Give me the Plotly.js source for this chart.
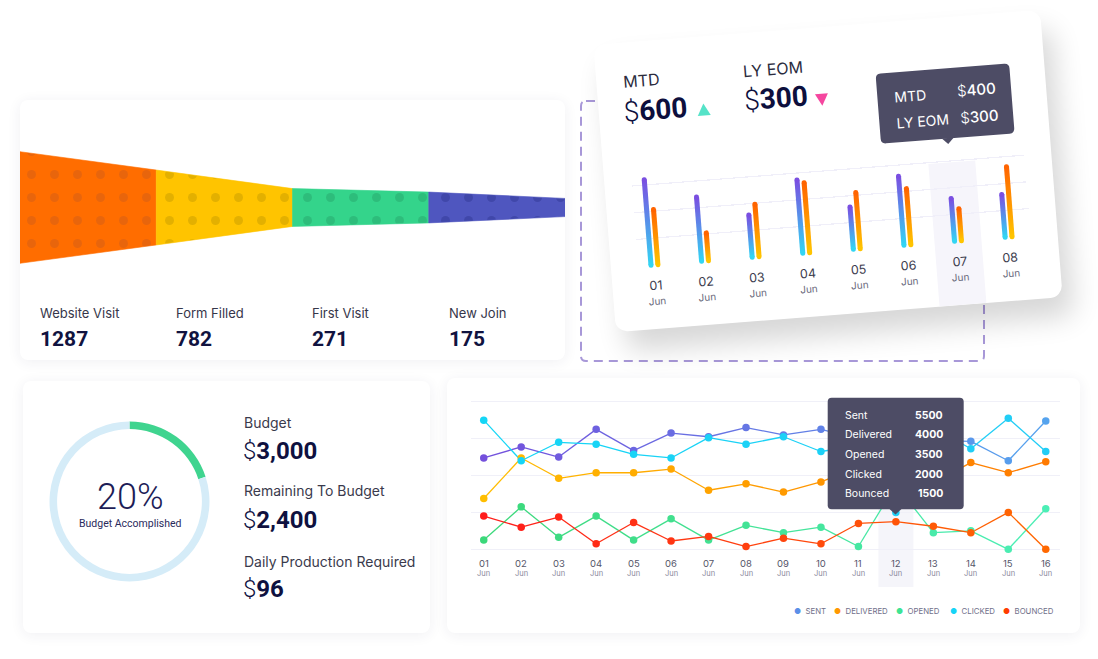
<!DOCTYPE html>
<html>
<head>
<meta charset="utf-8">
<script src="https://cdn.plot.ly/plotly-3.0.1.min.js"></script>
<style>
  html, body { margin: 0; padding: 0; background: #ffffff; width: 1098px; height: 659px; overflow: hidden; }
  .card { position: absolute; background: #fff; border-radius: 8px; box-shadow: 0 2px 14px rgba(40, 40, 90, 0.07); }
  #main { position: absolute; left: 0; top: 0; width: 1098px; height: 659px; }
  #tilt { position: absolute; left: 603.5px; top: 27px; width: 448px; height: 288px; background: #fff;
          border-radius: 12px; transform: rotate(-4.5deg); box-shadow: 10px 20px 28px rgba(0, 0, 0, 0.16); }
  #tiltPlot { position: absolute; left: 0; top: 0; width: 448px; height: 288px; }
</style>
</head>
<body>
<div class="card" style="left:20px;top:100px;width:545px;height:260px"></div>
<div class="card" style="left:23px;top:381px;width:407px;height:252px"></div>
<div class="card" style="left:447px;top:378px;width:633px;height:255px"></div>
<div id="main"></div>
<div id="tilt"><div id="tiltPlot"></div></div>
<script>
// ---------- data ----------
// Acquisition funnel
const funnelStages = ['Website Visit', 'Form Filled', 'First Visit', 'New Join'];
const funnelCounts = [1287, 782, 271, 175];

// Budget
const budgetTotal = 3000;
const budgetRemaining = 2400;
const dailyRequired = 96;

// Month to date vs last year end of month, daily
const barDays = ['01', '02', '03', '04', '05', '06', '07', '08'];
const barMonth = 'Jun';
const mtdDaily = [800, 600, 395, 685, 395, 645, 400, 400];
const lyEomDaily = [515, 260, 490, 655, 525, 525, 300, 655];
const mtdTotal = 600;
const lyEomTotal = 300;
const barFocusDay = 6;

// Email campaign, daily
const lineDays = ['01', '02', '03', '04', '05', '06', '07', '08', '09', '10', '11', '12', '13', '14', '15', '16'];
const lineMonth = 'Jun';
const seriesNames = ['Sent', 'Delivered', 'Opened', 'Clicked', 'Bounced'];
const sent      = [4950, 5550, 5000, 6500, 5350, 6300, 6100, 6600, 6200, 6500, 6000, 5500, 5900, 5850, 4800, 6950];
const delivered = [2750, 4950, 3850, 4150, 4150, 4350, 3200, 3550, 3100, 3650, 4450, 4000, 3600, 4700, 4150, 4750];
const opened    = [500, 2300, 650, 1800, 500, 1650, 500, 1300, 900, 1200, 150, 3500, 900, 1000, 0, 2200];
const clicked   = [7000, 4800, 5800, 5700, 5150, 4950, 6050, 5700, 6100, 5300, 5600, 2000, 6600, 5450, 7100, 5300];
const bounced   = [1800, 1200, 1750, 300, 1450, 450, 700, 150, 600, 300, 1400, 1500, 1250, 900, 2000, 0];
const lineFocusDay = 11;

// ---------- helpers ----------
const LABEL_FONT = 'Inter, "Noto Sans", sans-serif';
const NUM_FONT = 'Roboto, Inter, sans-serif';
const W = 1098, H = 659;
const X = x => x / W, Y = y => 1 - y / H;

function hex2rgb(h) { return [1, 3, 5].map(k => parseInt(h.substr(k, 2), 16)); }
function mix(a, b, t) {
  const A = hex2rgb(a), B = hex2rgb(b);
  return 'rgb(' + A.map((v, k) => Math.round(v + (B[k] - v) * t)).join(',') + ')';
}
// rounded rectangle path in paper units, from pixel corners
function roundRect(x0, y0, x1, y1, r, fx, fy) {
  const P = (x, y) => fx(x) + ',' + fy(y);
  return 'M' + P(x0 + r, y0) + ' L' + P(x1 - r, y0) + ' Q' + P(x1, y0) + ' ' + P(x1, y0 + r) +
         ' L' + P(x1, y1 - r) + ' Q' + P(x1, y1) + ' ' + P(x1 - r, y1) +
         ' L' + P(x0 + r, y1) + ' Q' + P(x0, y1) + ' ' + P(x0, y1 - r) +
         ' L' + P(x0, y0 + r) + ' Q' + P(x0, y0) + ' ' + P(x0 + r, y0) + ' Z';
}
function dollars(v, weight) {
  return '<span style="font-weight:300">$</span><span style="font-weight:' + weight + '">' +
         v.toLocaleString('en-US') + '</span>';
}

// ---------- main dashboard ----------
const traces = [];
const shapes = [];
const ann = [];

// funnel: each stage narrows from its own count to the next one
const bandBase = 250;
const edges = funnelCounts.concat([0]).map(v => (v + bandBase) / 2);
const funnelFill = ['#ff6d00', '#ffc400', '#34d48b', '#4f56bf'];
const funnelDots = ['#e8650c', '#e3b000', '#2dbd7b', '#4047aa'];
funnelCounts.forEach((v, i) => {
  traces.push({
    type: 'scatter', mode: 'lines', xaxis: 'x', yaxis: 'y',
    x: [i, i + 1, i + 1, i, i],
    y: [edges[i], edges[i + 1], -edges[i + 1], -edges[i], edges[i]],
    fill: 'toself', fillcolor: funnelFill[i],
    fillpattern: { shape: '.', bgcolor: funnelFill[i], fgcolor: funnelDots[i], size: 23, solidity: 0.12 },
    line: { width: 0.6, color: funnelFill[i] },
    hoverinfo: 'skip', showlegend: false
  });
  ann.push({ x: i + 0.132, xref: 'x', y: Y(313), yref: 'paper', xanchor: 'left', yanchor: 'middle',
    text: funnelStages[i], showarrow: false, font: { family: LABEL_FONT, size: 13, color: '#36364a' } });
  ann.push({ x: i + 0.132, xref: 'x', y: Y(339), yref: 'paper', xanchor: 'left', yanchor: 'middle',
    text: '<b>' + v + '</b>', showarrow: false, font: { family: NUM_FONT, size: 21, color: '#11133f' } });
});

// budget ring
const accomplished = budgetTotal - budgetRemaining;
traces.push({
  type: 'pie', values: [accomplished, budgetRemaining], labels: ['Accomplished', 'Remaining'],
  marker: { colors: ['#3fd48f', '#d5ecf8'], line: { width: 0 } },
  hole: 0.905, sort: false, direction: 'clockwise', rotation: 0, textinfo: 'none', hoverinfo: 'skip',
  domain: { x: [X(49.5), X(209.5)], y: [Y(581.5), Y(421.5)] }, showlegend: false
});
ann.push({ x: X(130), y: Y(497), xref: 'paper', yref: 'paper', showarrow: false, xanchor: 'center', yanchor: 'middle',
  text: '<span style="font-weight:300">' + Math.round(accomplished / budgetTotal * 100) + '%</span>',
  font: { family: NUM_FONT, size: 36, color: '#1d1d57' } });
ann.push({ x: X(130), y: Y(523), xref: 'paper', yref: 'paper', showarrow: false, xanchor: 'center', yanchor: 'middle',
  text: 'Budget Accomplished', font: { family: NUM_FONT, size: 10.5, color: '#2a2a5c' } });

const budgetRows = [
  ['Budget', budgetTotal, 423, 451],
  ['Remaining To Budget', budgetRemaining, 491, 520],
  ['Daily Production Required', dailyRequired, 561.5, 589]
];
budgetRows.forEach(r => {
  ann.push({ x: X(242), y: Y(r[2]), xref: 'paper', yref: 'paper', showarrow: false, xanchor: 'left', yanchor: 'middle',
    text: r[0], font: { family: LABEL_FONT, size: 14, color: '#3a3a4c' } });
  ann.push({ x: X(241), y: Y(r[3]), xref: 'paper', yref: 'paper', showarrow: false, xanchor: 'left', yanchor: 'middle',
    text: dollars(r[1], 700), font: { family: NUM_FONT, size: 24, color: '#0f1140' } });
});

// email campaign lines
const lineSeries = [sent, delivered, opened, clicked, bounced];
const lineGrad = [
  ['#7450dc', '#55a3ee'],
  ['#ffbe00', '#ff7a00'],
  ['#3bd87a', '#4cefb6'],
  ['#14d6f6', '#22cdf6'],
  ['#ff1c1c', '#ff6800']
];
const idx = lineDays.map((d, i) => i);
const last = lineDays.length - 1;
lineSeries.forEach((s, k) => {
  for (let i = 0; i < last; i++) {
    traces.push({ type: 'scatter', mode: 'lines', xaxis: 'x2', yaxis: 'y2', x: [i, i + 1], y: [s[i], s[i + 1]],
      line: { color: mix(lineGrad[k][0], lineGrad[k][1], (i + 0.5) / last), width: 1.3 },
      hoverinfo: 'skip', showlegend: false, cliponaxis: false });
  }
});
lineSeries.forEach((s, k) => {
  traces.push({ type: 'scatter', mode: 'markers', xaxis: 'x2', yaxis: 'y2', x: idx, y: s, name: seriesNames[k],
    marker: { size: 7.5, color: idx.map(i => mix(lineGrad[k][0], lineGrad[k][1], i / last)), line: { width: 0 } },
    hoverinfo: 'skip', showlegend: false, cliponaxis: false });
});

// highlighted day column
shapes.push({ type: 'rect', xref: 'x2', yref: 'paper', x0: lineFocusDay - 0.467, x1: lineFocusDay + 0.467,
  y0: Y(587), y1: Y(398), fillcolor: '#f5f5fa', line: { width: 0 }, layer: 'below' });

// day labels
lineDays.forEach((d, i) => {
  ann.push({ x: i, xref: 'x2', y: Y(563), yref: 'paper', text: d, showarrow: false, xanchor: 'center', yanchor: 'middle',
    font: { family: LABEL_FONT, size: 9.5, color: '#56566a' } });
  ann.push({ x: i, xref: 'x2', y: Y(573.5), yref: 'paper', text: lineMonth, showarrow: false, xanchor: 'center', yanchor: 'middle',
    font: { family: LABEL_FONT, size: 7.5, color: '#8a8a9c' } });
});

// tooltip for the highlighted day
shapes.push({ type: 'path', xref: 'paper', yref: 'paper', path: roundRect(827.7, 397.7, 963.7, 509.3, 4, X, Y),
  fillcolor: '#4d4c65', line: { width: 0 } });
shapes.push({ type: 'path', xref: 'paper', yref: 'paper',
  path: 'M' + X(889.5) + ',' + Y(509) + ' L' + X(895.5) + ',' + Y(514.5) + ' L' + X(901.5) + ',' + Y(509) + ' Z',
  fillcolor: '#4d4c65', line: { width: 0 } });
const tipRows = [415, 434.7, 454.7, 474.7, 494];
seriesNames.forEach((n, k) => {
  ann.push({ x: X(843.3), y: Y(tipRows[k]), xref: 'paper', yref: 'paper', showarrow: false, xanchor: 'left', yanchor: 'middle',
    text: n, font: { family: LABEL_FONT, size: 10.5, color: '#ffffff' } });
  ann.push({ x: X(944.5), y: Y(tipRows[k]), xref: 'paper', yref: 'paper', showarrow: false, xanchor: 'right', yanchor: 'middle',
    text: '<b>' + lineSeries[k][lineFocusDay] + '</b>', font: { family: LABEL_FONT, size: 10.5, color: '#ffffff' } });
});

// legend
const legendColors = ['#5b8fe8', '#ff9800', '#3ee494', '#16d4f7', '#ff3c00'];
const legendX = [791.5, 832.2, 894, 947.5, 1001];
seriesNames.forEach((n, k) => {
  ann.push({ x: X(legendX[k]), y: Y(610.7), xref: 'paper', yref: 'paper', showarrow: false, xanchor: 'left', yanchor: 'middle',
    text: '<span style="color:' + legendColors[k] + '">●</span>  ' + n.toUpperCase(),
    font: { family: LABEL_FONT, size: 7.8, color: '#70708a' } });
});

// dashed frame behind the tilted card
shapes.push({ type: 'path', xref: 'paper', yref: 'paper', path: roundRect(581, 101, 984, 361, 5, X, Y),
  line: { color: '#a898d8', width: 2, dash: '9px,6px' }, fillcolor: 'rgba(0,0,0,0)', layer: 'below' });

const layout = {
  width: W, height: H, margin: { l: 0, r: 0, t: 0, b: 0 },
  paper_bgcolor: 'rgba(0,0,0,0)', plot_bgcolor: 'rgba(0,0,0,0)', showlegend: false,
  font: { family: LABEL_FONT },
  xaxis: { domain: [X(20), X(565)], range: [0, 4], visible: false, fixedrange: true },
  yaxis: { domain: [Y(275), Y(140)], range: [-930, 930], visible: false, fixedrange: true },
  xaxis2: { domain: [X(471), X(1060)], range: [-0.34, 15.38], showgrid: false, zeroline: false,
    showticklabels: false, showline: false, anchor: 'y2' },
  yaxis2: { domain: [Y(556), Y(395)], range: [-363, 8363], tick0: 0, dtick: 2000, showgrid: true,
    gridcolor: '#f0f0f8', gridwidth: 1.5, zeroline: false, showticklabels: false, showline: false, anchor: 'x2' },
  shapes: shapes, annotations: ann
};
Plotly.newPlot('main', traces, layout, { staticPlot: true, displayModeBar: false });

// ---------- tilted MTD card ----------
const CW = 448, CH = 288;
const U = u => u / CW, V = v => 1 - v / CH;
const ctr = [];
const cShapes = [];
const cAnn = [];
const barHalf = 0.05, barOffset = 0.068;
const mtdGrad = ['#33d5f3', '#7a4fe1'];
const lyGrad = ['#ffc400', '#ff6400'];
function addBar(xc, val, grad) {
  ctr.push({ type: 'scatter', mode: 'lines', x: [xc - barHalf, xc + barHalf, xc + barHalf, xc - barHalf, xc - barHalf],
    y: [0, 0, val, val, 0], fill: 'toself', fillcolor: grad[1],
    fillgradient: { type: 'vertical', colorscale: [[0, grad[0]], [1, grad[1]]], start: 0, stop: val },
    line: { width: 0 }, hoverinfo: 'skip', showlegend: false });
  ctr.push({ type: 'scatter', mode: 'markers', x: [xc, xc], y: [0, val],
    marker: { size: 5, color: [grad[0], grad[1]], line: { width: 0 } }, hoverinfo: 'skip', showlegend: false, cliponaxis: false });
}
barDays.forEach((d, i) => {
  addBar(i - barOffset, mtdDaily[i], mtdGrad);
  addBar(i + barOffset, lyEomDaily[i], lyGrad);
  cAnn.push({ x: i, xref: 'x', y: V(244), yref: 'paper', text: d, showarrow: false, xanchor: 'center', yanchor: 'middle',
    font: { family: LABEL_FONT, size: 12.5, color: '#3c3c4e' } });
  cAnn.push({ x: i, xref: 'x', y: V(260), yref: 'paper', text: barMonth, showarrow: false, xanchor: 'center', yanchor: 'middle',
    font: { family: LABEL_FONT, size: 10, color: '#6b6b7d' } });
});

// highlighted day column
cShapes.push({ type: 'rect', xref: 'x', yref: 'paper', x0: barFocusDay - 0.463, x1: barFocusDay + 0.463,
  y0: V(288), y1: V(145), fillcolor: '#f6f5fb', line: { width: 0 }, layer: 'below' });

// headline figures
cAnn.push({ x: U(24.5), y: V(39), xref: 'paper', yref: 'paper', text: 'MTD', showarrow: false, xanchor: 'left', yanchor: 'middle',
  font: { family: LABEL_FONT, size: 16, color: '#2b2b3d' } });
cAnn.push({ x: U(23), y: V(69), xref: 'paper', yref: 'paper', text: dollars(mtdTotal, 700), showarrow: false,
  xanchor: 'left', yanchor: 'middle', font: { family: NUM_FONT, size: 28, color: '#0d0f3d' } });
cAnn.push({ x: U(145), y: V(37.5), xref: 'paper', yref: 'paper', text: 'LY EOM', showarrow: false, xanchor: 'left', yanchor: 'middle',
  font: { family: LABEL_FONT, size: 16, color: '#2b2b3d' } });
cAnn.push({ x: U(144), y: V(67.5), xref: 'paper', yref: 'paper', text: dollars(lyEomTotal, 700), showarrow: false,
  xanchor: 'left', yanchor: 'middle', font: { family: NUM_FONT, size: 28, color: '#0d0f3d' } });
cShapes.push({ type: 'path', xref: 'paper', yref: 'paper',
  path: 'M' + U(98.5) + ',' + V(79) + ' L' + U(111.5) + ',' + V(79) + ' L' + U(105) + ',' + V(67) + ' Z',
  fillcolor: '#55e3c8', line: { width: 0 } });
cShapes.push({ type: 'path', xref: 'paper', yref: 'paper',
  path: 'M' + U(217) + ',' + V(66.5) + ' L' + U(230) + ',' + V(66.5) + ' L' + U(223.5) + ',' + V(78.5) + ' Z',
  fillcolor: '#f5469f', line: { width: 0 } });

// tooltip for the highlighted day
cShapes.push({ type: 'path', xref: 'paper', yref: 'paper', path: roundRect(279, 51, 413, 121, 5, U, V),
  fillcolor: '#4d4c65', line: { width: 0 } });
cShapes.push({ type: 'path', xref: 'paper', yref: 'paper',
  path: 'M' + U(340) + ',' + V(120.5) + ' L' + U(346) + ',' + V(126.5) + ' L' + U(352) + ',' + V(120.5) + ' Z',
  fillcolor: '#4d4c65', line: { width: 0 } });
cAnn.push({ x: U(294), y: V(75), xref: 'paper', yref: 'paper', text: 'MTD', showarrow: false, xanchor: 'left', yanchor: 'middle',
  font: { family: LABEL_FONT, size: 14, color: '#ffffff' } });
cAnn.push({ x: U(400), y: V(74), xref: 'paper', yref: 'paper', text: dollars(mtdDaily[barFocusDay], 500),
  showarrow: false, xanchor: 'right', yanchor: 'middle', font: { family: LABEL_FONT, size: 15, color: '#ffffff' } });
cAnn.push({ x: U(294), y: V(101.5), xref: 'paper', yref: 'paper', text: 'LY EOM', showarrow: false, xanchor: 'left', yanchor: 'middle',
  font: { family: LABEL_FONT, size: 14, color: '#ffffff' } });
cAnn.push({ x: U(400), y: V(101), xref: 'paper', yref: 'paper', text: dollars(lyEomDaily[barFocusDay], 500),
  showarrow: false, xanchor: 'right', yanchor: 'middle', font: { family: LABEL_FONT, size: 15, color: '#ffffff' } });

const cLayout = {
  width: CW, height: CH, margin: { l: 0, r: 0, t: 0, b: 0 },
  paper_bgcolor: 'rgba(0,0,0,0)', plot_bgcolor: 'rgba(0,0,0,0)', showlegend: false,
  xaxis: { domain: [U(27), U(421)], range: [-0.327, 7.437], showgrid: false, zeroline: false, showticklabels: false, showline: false },
  yaxis: { domain: [V(224), V(116.8)], range: [0, 1000], tick0: 0, dtick: 250, showgrid: true, gridcolor: '#f0eff9',
    gridwidth: 1.2, zeroline: false, showticklabels: false, showline: false },
  shapes: cShapes, annotations: cAnn
};
Plotly.newPlot('tiltPlot', ctr, cLayout, { staticPlot: true, displayModeBar: false });
</script>
</body>
</html>
